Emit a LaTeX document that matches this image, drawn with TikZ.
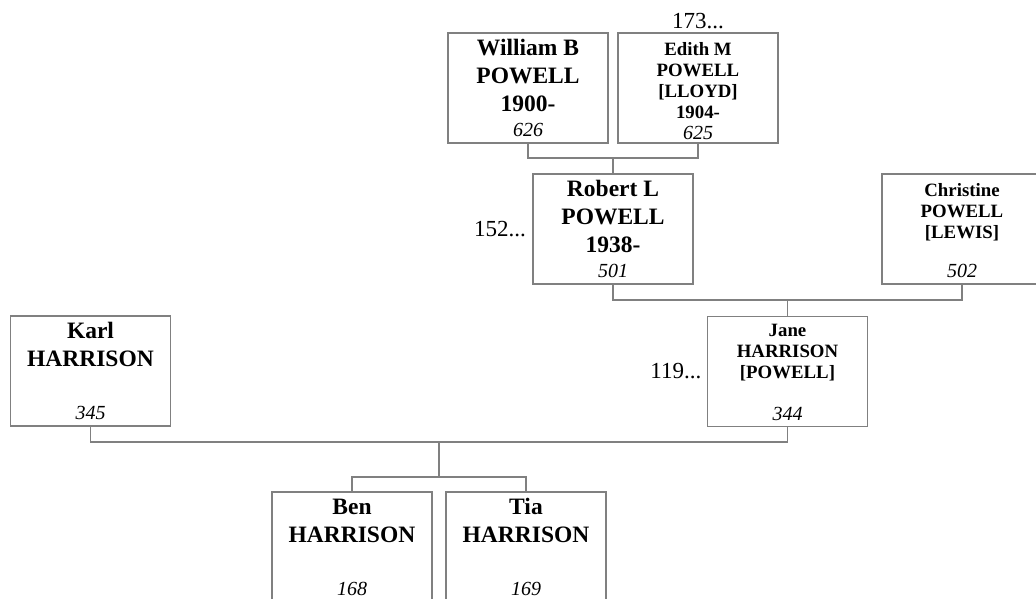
\documentclass[tikz,border=0pt]{standalone}
\usepackage{fontspec}
\setmainfont{Liberation Serif}
\definecolor{lc}{RGB}{128,128,128}
\newcommand\bigname{\fontsize{23.5pt}{28pt}\selectfont\bfseries}
\newcommand\smallname{\fontsize{18.8pt}{21pt}\selectfont\bfseries}
\newcommand\pnum{\fontsize{20pt}{21pt}\selectfont\mdseries\itshape}
\newcommand\firstl{\rule{0pt}{22pt}}
\newcommand\lastl{\rule[-6.5pt]{0pt}{0pt}}
\begin{document}
\begin{tikzpicture}[x=1pt,y=-1pt,
  person/.style={draw=lc, line width=1.2pt, inner sep=0pt, outer sep=0pt,
    minimum width=160pt, minimum height=110pt},
  conn/.style={draw=lc, line width=1.2pt},
  lbl/.style={font=\fontsize{23pt}{27pt}\selectfont, inner sep=0pt}]
\useasboundingbox (0,0) rectangle (1036,598);
\clip (0,0) rectangle (1036,598);

\node[person] (william) at (528,88) {\parbox[t][103.5pt][s]{160pt}{\centering\bigname\firstl William B\\POWELL\\1900-\par\vfill\pnum 626\lastl}};
\node[person] (edith) at (698,88) {\parbox[t][103.5pt][s]{160pt}{\centering\smallname\firstl Edith M\\POWELL\\{}[LLOYD]\\1904-\par\vfill\pnum 625\lastl}};
\node[person] (robert) at (613,229) {\parbox[t][103.5pt][s]{160pt}{\centering\bigname\firstl Robert L\\POWELL\\1938-\par\vfill\pnum 501\lastl}};
\node[person] (christine) at (962,229) {\parbox[t][103.5pt][s]{160pt}{\centering\smallname\firstl Christine\\POWELL\\{}[LEWIS]\par\vfill\pnum 502\lastl}};
\node[person] (jane) at (787.5,371.5) {\parbox[t][103.5pt][s]{160pt}{\centering\smallname\rule{0pt}{20pt}Jane\\HARRISON\\{}[POWELL]\par\vfill\pnum 344\lastl}};
\node[person] (karl) at (90.5,371) {\parbox[t][103.5pt][s]{160pt}{\centering\bigname\firstl Karl\\HARRISON\par\vfill\pnum 345\lastl}};
\node[person] (ben) at (352,547) {\parbox[t][103.5pt][s]{160pt}{\centering\bigname\firstl Ben\\HARRISON\par\vfill\pnum 168\lastl}};
\node[person] (tia) at (526,547) {\parbox[t][103.5pt][s]{160pt}{\centering\bigname\firstl Tia\\HARRISON\par\vfill\pnum 169\lastl}};

\node[lbl, anchor=base] (l173) at (698,28) {173...};
\node[lbl, anchor=east] (l152) at ([xshift=-7pt]robert.west) {152...};
\node[lbl, anchor=east] (l119) at ([xshift=-6pt]jane.west) {119...};

\coordinate (we) at (613,158);
\coordinate (rc) at (787.5,300);
\coordinate (kj) at (439,442);
\coordinate (bt) at (439,477);

\draw[conn] (william.south) |- (we) -| (edith.south);
\draw[conn] (we) -- (robert.north);
\draw[conn] (robert.south) |- (rc) -| (christine.south);
\draw[conn] (rc) -- (jane.north);
\draw[conn] (karl.south) |- (kj) -| (jane.south);
\draw[conn] (kj) -- (bt);
\draw[conn] (ben.north) |- (bt) -| (tia.north);
\end{tikzpicture}
\end{document}
